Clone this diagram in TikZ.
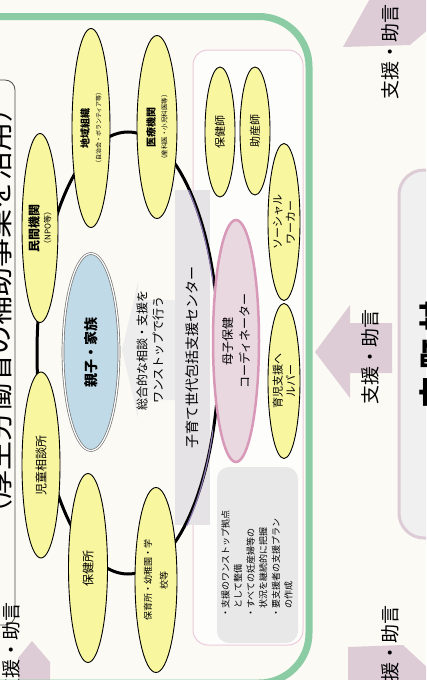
\documentclass[tikz,border=0pt]{standalone}
\usepackage{fontspec}
\setmainfont{Noto Sans CJK JP}
\usetikzlibrary{shapes.geometric}
\definecolor{paper}{RGB}{251,250,245}
\definecolor{frame}{RGB}{140,204,164}
\definecolor{bud}{RGB}{249,246,160}
\definecolor{sky}{RGB}{192,219,231}
\definecolor{rose}{RGB}{216,152,184}
\definecolor{blush}{RGB}{234,216,224}
\definecolor{mauve}{RGB}{221,204,214}
\definecolor{mist}{RGB}{229,227,229}
\definecolor{lilac}{RGB}{140,120,175}
\begin{document}
\begin{tikzpicture}[x=1pt, y=1pt,
  agency/.style={ellipse, draw, line width=0.9pt, fill=bud, rotate=90, inner sep=0pt, align=center},
  advice/.style={rotate=90, font=\fontsize{19}{19}\selectfont}]
\useasboundingbox (0,0) rectangle (426,-680);
\clip (0,0) rectangle (426,-680);
\fill[paper] (0,0) rectangle (426,-680);

\draw[black!70, line width=0.8, rounded corners=10] (-30,-80) rectangle (15,-625);
\node[rotate=90, font=\fontsize{29}{29}\selectfont] (grant) at (-2,-311) {（厚生労働省の補助事業を活用）};

\draw[mauve, line width=3, fill=black!6, rounded corners=25] (399,-170) rectangle (480,-538);
\node[rotate=90, font=\bfseries\fontsize{30}{30}\selectfont] (city) at (434,-354) {市\hspace{8pt}町\hspace{8pt}村};

\fill[mauve] (315,-352) -- (350,-305) -- (350,-323) -- (392,-323) -- (392,-373) -- (350,-373) -- (350,-398) -- cycle;
\fill[mauve] (343,-47) -- (372,5) -- (430,5) -- (430,-28) -- (410,-45) -- cycle;
\fill[mauve] (348,-690) -- (348,-647) -- (403,-645) -- (430,-670) -- (430,-690) -- cycle;
\fill[mauve] (18,-690) -- (18,-658) -- (32,-641) -- (50,-662) -- (50,-690) -- cycle;
\node[advice] (adviceA) at (370,-357) {支援・助言};
\node[advice] (adviceB) at (390,-52) {支援・助言};
\node[advice] (adviceC) at (390,-653) {支援・助言};
\node[advice] (adviceD) at (11,-650) {支援・助言};

\draw[frame, line width=7, rounded corners=50] (-60,-16.5) rectangle (309,-683);
\draw[rose!50, line width=1, fill=white!60!paper, rounded corners=15] (193,-50) rectangle (303,-645);

\fill[mist] (175,-190) rectangle (210,-525);
\node[rotate=90, font=\fontsize{14}{14}\selectfont] (center) at (192,-357) {子育て世代包括支援センター};

\fill[black!7] (122,-350) -- (138,-282) -- (138,-300) -- (175,-300) -- (175,-400) -- (138,-400) -- (138,-418) -- cycle;
\node[rotate=90, align=center, font=\fontsize{12}{16}\selectfont] (onestop) at (150,-350) {総合的な相談・支援を\\ワンストップで行う};

\draw[line width=3] (128,-353) ellipse [x radius=91, y radius=221];
\begin{scope}
  \clip (175,-190) rectangle (213,-525);
  \draw[lilac, line width=1.2] (130,-356) ellipse [x radius=88, y radius=222];
\end{scope}

\node[agency, minimum width=189, minimum height=36] (npo) at (40,-228)
  {{\bfseries\fontsize{12}{14}\selectfont 民間機関}\\{\fontsize{8}{10}\selectfont （NPO等）}};
\node[agency, minimum width=199, minimum height=38] (local) at (91,-128)
  {{\bfseries\fontsize{10}{14}\selectfont 地域組織}\\{\fontsize{6}{8}\selectfont （自治会・ボランティア等）}};
\node[agency, minimum width=183, minimum height=40] (medical) at (157,-127)
  {{\bfseries\fontsize{10}{13}\selectfont 医療機関}\\{\fontsize{6.5}{8}\selectfont （産科医・小児科医等）}};
\node[agency, minimum width=186, minimum height=38, font=\fontsize{12}{12}\selectfont] (guidance) at (41,-465) {児童相談所};
\node[agency, minimum width=189, minimum height=39, font=\fontsize{12}{12}\selectfont] (health) at (88,-568) {保健所};
\node[agency, minimum width=185, minimum height=42, font=\fontsize{9}{16}\selectfont] (school) at (156,-580) {保育所・幼稚園・学\\校等};
\node[ellipse, rotate=90, draw=black!55, double=white, double distance=1.2pt, line width=0.7pt, fill=sky,
  minimum width=197, minimum height=56, inner sep=0pt, font=\bfseries\fontsize{14}{14}\selectfont] (family) at (91,-352) {親子・家族};

\node[agency, minimum width=130, minimum height=30, font=\fontsize{11}{11}\selectfont] (nurse) at (220,-132) {保健師};
\node[agency, minimum width=128, minimum height=30, font=\fontsize{11}{11}\selectfont] (midwife) at (255,-131) {助産師};
\node[agency, minimum width=157, minimum height=32, font=\fontsize{11}{13}\selectfont] (social) at (284,-222) {ソーシャル\\ワーカー};
\node[agency, minimum width=155, minimum height=32, font=\fontsize{11}{13}\selectfont] (helper) at (284,-381) {育児支援ヘ\\ルパー};
\node[ellipse, rotate=90, draw=rose, line width=2.5pt, fill=blush, minimum width=242, minimum height=46,
  inner sep=0pt, align=center, font=\fontsize{12}{17}\selectfont] (coord) at (236,-341) {母子保健\\コーディネーター};

\node[rotate=90, fill=black!9, rounded corners=12, minimum width=176, minimum height=81] (notebox) at (257.5,-555) {};
\node[rotate=90, align=left, font=\fontsize{9}{12.6}\selectfont] (notes) at (257,-564)
  {・支援のワンストップ拠点\\　として整備\\・すべての妊産婦等の\\　状況を継続的に把握\\・要支援者の支援プラン\\　の作成};
\end{tikzpicture}
\end{document}
